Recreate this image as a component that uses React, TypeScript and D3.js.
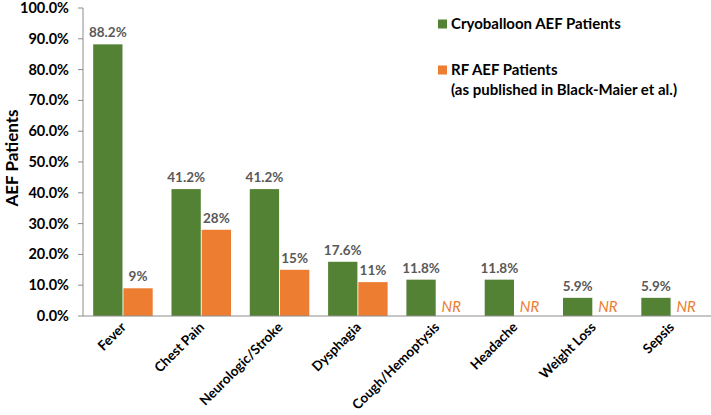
import * as d3 from "d3";
import React, { useEffect, useRef } from "react";

const categories = [
  "Fever",
  "Chest Pain",
  "Neurologic/Stroke",
  "Dysphagia",
  "Cough/Hemoptysis",
  "Headache",
  "Weight Loss",
  "Sepsis",
];
const cryoValues = [88.2, 41.2, 41.2, 17.6, 11.8, 11.8, 5.9, 5.9];
const rfValues: (number | null)[] = [9, 28, 15, 11, null, null, null, null];
const yTicks = [0, 10, 20, 30, 40, 50, 60, 70, 80, 90, 100];

const GREEN = "#548235";
const ORANGE = "#ED7D31";
const FONT = "Lato, 'Open Sans', sans-serif";

export default function App() {
  const svgRef = useRef<SVGSVGElement>(null);

  useEffect(() => {
    const width = 711;
    const height = 415;
    const svg = d3.select(svgRef.current);
    svg.selectAll("*").remove();
    svg.attr("width", width).attr("height", height).attr("viewBox", `0 0 ${width} ${height}`);

    const x = d3
      .scaleBand<string>()
      .domain(categories)
      .range([83, 711])
      .paddingInner(0.24)
      .paddingOuter(0.13);

    const inner = d3
      .scaleBand<string>()
      .domain(["cryo", "rf"])
      .range([0, x.bandwidth()])
      .paddingInner(0.03);

    const y = d3.scaleLinear().domain([0, 100]).range([316, 8]);

    const g = svg.append("g").style("font-family", FONT);

    // y axis
    g.append("line")
      .attr("x1", 83)
      .attr("x2", 83)
      .attr("y1", y(100))
      .attr("y2", y(0))
      .attr("stroke", "#8c8c8c")
      .attr("stroke-width", 1);

    g.selectAll("line.ytick")
      .data(yTicks)
      .join("line")
      .attr("class", "ytick")
      .attr("x1", 78)
      .attr("x2", 83)
      .attr("y1", (d) => y(d))
      .attr("y2", (d) => y(d))
      .attr("stroke", "#8c8c8c");

    g.selectAll("text.ylab")
      .data(yTicks)
      .join("text")
      .attr("class", "ylab")
      .attr("x", 69)
      .attr("y", (d) => y(d))
      .attr("dy", "0.35em")
      .attr("text-anchor", "end")
      .attr("font-size", 14.5)
      .attr("font-weight", "bold")
      .attr("fill", "#000")
      .text((d) => d.toFixed(1) + "%");

    g.append("text")
      .attr("transform", `translate(18, 158) rotate(-90)`)
      .attr("text-anchor", "middle")
      .attr("font-size", 17)
      .attr("font-weight", "bold")
      .attr("fill", "#000")
      .text("AEF Patients");

    // bars
    const groups = g
      .selectAll("g.cat")
      .data(categories)
      .join("g")
      .attr("class", "cat")
      .attr("transform", (d) => `translate(${x(d)},0)`);

    groups
      .append("rect")
      .attr("x", inner("cryo")!)
      .attr("width", inner.bandwidth())
      .attr("y", (_, i) => y(cryoValues[i]))
      .attr("height", (_, i) => y(0) - y(cryoValues[i]))
      .attr("fill", GREEN);

    groups
      .filter((_, i) => rfValues[i] !== null)
      .append("rect")
      .attr("x", inner("rf")!)
      .attr("width", inner.bandwidth())
      .attr("y", (d) => y(rfValues[categories.indexOf(d)]!))
      .attr("height", (d) => y(0) - y(rfValues[categories.indexOf(d)]!))
      .attr("fill", ORANGE);

    groups
      .append("text")
      .attr("x", inner("cryo")! + inner.bandwidth() / 2)
      .attr("y", (_, i) => y(cryoValues[i]) - 7)
      .attr("text-anchor", "middle")
      .attr("font-size", 13.5)
      .attr("font-weight", "bold")
      .attr("fill", "#595959")
      .text((_, i) => cryoValues[i].toFixed(1) + "%");

    groups
      .append("text")
      .attr("x", inner("rf")! + inner.bandwidth() / 2)
      .attr("y", (_, i) => (rfValues[i] !== null ? y(rfValues[i]!) - 7 : y(0) - 4))
      .attr("text-anchor", "middle")
      .attr("font-size", (_, i) => (rfValues[i] !== null ? 13.5 : 15))
      .attr("font-weight", (_, i) => (rfValues[i] !== null ? "bold" : "normal"))
      .attr("font-style", (_, i) => (rfValues[i] !== null ? "normal" : "italic"))
      .attr("fill", (_, i) => (rfValues[i] !== null ? "#595959" : ORANGE))
      .text((_, i) => (rfValues[i] !== null ? rfValues[i] + "%" : "NR"));

    // x axis
    g.append("line")
      .attr("x1", 83)
      .attr("x2", 711)
      .attr("y1", y(0))
      .attr("y2", y(0))
      .attr("stroke", "#8c8c8c");

    g.selectAll("text.xlab")
      .data(categories)
      .join("text")
      .attr("class", "xlab")
      .attr("transform", (d) => `translate(${x(d)! + x.bandwidth() / 2 + 4}, 328) rotate(-45)`)
      .attr("text-anchor", "end")
      .attr("font-size", 13.5)
      .attr("font-weight", "bold")
      .attr("fill", "#000")
      .text((d) => d);

    // legend
    const legend = [
      { color: GREEN, lines: ["Cryoballoon AEF Patients"], y: 24 },
      { color: ORANGE, lines: ["RF AEF Patients", "(as published in Black-Maier et al.)"], y: 70 },
    ];
    legend.forEach((item) => {
      g.append("rect")
        .attr("x", 438)
        .attr("y", item.y - 4.5)
        .attr("width", 9)
        .attr("height", 9)
        .attr("fill", item.color);
      item.lines.forEach((line, li) => {
        g.append("text")
          .attr("x", 451)
          .attr("y", item.y + li * 20)
          .attr("dy", "0.35em")
          .attr("font-size", 15)
          .attr("font-weight", "bold")
          .attr("fill", "#000")
          .text(line);
      });
    });
  }, []);

  return <svg ref={svgRef} style={{ position: "absolute", left: 0, top: 0, display: "block" }} />;
}
